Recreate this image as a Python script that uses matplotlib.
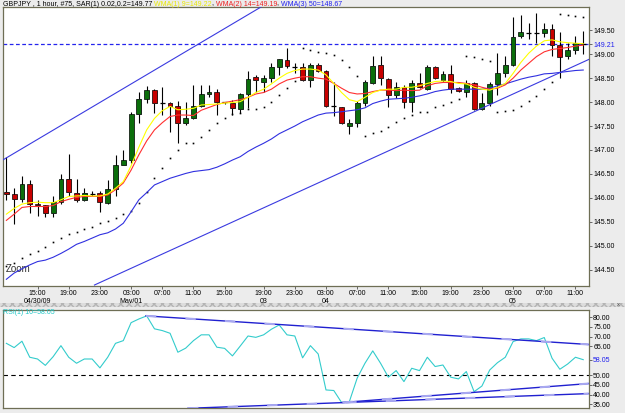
import numpy as np
import matplotlib
matplotlib.use("Agg")
import matplotlib.pyplot as plt
from matplotlib.patches import Rectangle

plt.rcParams['font.family'] = ['Liberation Sans', 'DejaVu Sans']

# hourly GBPJPY bars
opens = [146.13, 146.08, 145.97, 146.29, 145.87, 145.85, 145.68, 145.92, 146.40, 146.11,
         145.96, 146.09, 146.10, 145.90, 146.18, 146.69, 146.79, 147.75, 148.07, 148.25,
         147.98, 147.99, 147.92, 147.56, 147.66, 147.91, 148.16, 148.21, 148.00, 147.99,
         147.86, 148.16, 148.53, 148.41, 148.50, 148.74, 148.88, 148.74, 148.74, 148.46,
         148.78, 148.65, 147.91, 147.89, 147.51, 147.56, 147.99, 148.39, 148.78, 148.48,
         148.14, 148.31, 148.01, 148.39, 148.27, 148.74, 148.46, 148.59, 148.29, 148.22,
         148.39, 147.85, 147.98, 148.38, 148.60, 148.78, 149.38, 149.45, 149.45, 149.45,
         149.52, 149.19, 148.96, 149.09, 149.21]
highs = [146.86, 146.21, 146.46, 146.37, 145.96, 145.85, 146.03, 146.49, 146.91, 146.39,
         146.21, 146.15, 146.15, 146.37, 146.90, 147.01, 147.80, 148.22, 148.34, 148.27,
         148.32, 148.01, 148.03, 148.01, 148.36, 148.36, 148.36, 148.27, 148.01, 148.05,
         148.18, 148.66, 148.57, 148.57, 148.82, 148.91, 149.12, 148.82, 148.81, 148.82,
         148.82, 148.67, 148.41, 147.89, 147.64, 148.03, 148.46, 148.96, 148.96, 148.50,
         148.43, 148.36, 148.46, 148.60, 148.78, 148.76, 148.64, 148.78, 148.31, 148.46,
         148.43, 148.18, 148.43, 149.02, 148.97, 149.77, 149.81, 149.66, 149.87, 149.66,
         149.63, 149.46, 149.24, 149.38, 149.49]
lows = [145.96, 145.45, 145.92, 145.68, 145.62, 145.61, 145.60, 145.87, 146.03, 145.91,
        145.93, 146.03, 145.70, 145.87, 146.04, 146.68, 146.72, 147.56, 147.98, 147.77,
        147.73, 147.38, 147.15, 147.52, 147.64, 147.89, 148.10, 147.73, 147.97, 147.73,
        147.77, 147.87, 148.22, 148.22, 148.43, 148.57, 148.71, 148.60, 148.45, 148.31,
        148.62, 147.89, 147.71, 147.54, 147.34, 147.47, 147.91, 148.38, 148.36, 147.89,
        148.08, 147.87, 147.80, 148.29, 148.25, 148.48, 148.41, 148.19, 148.22, 148.10,
        147.84, 147.84, 147.91, 148.15, 148.52, 148.76, 149.33, 149.31, 149.23, 149.35,
        148.96, 148.50, 148.89, 149.00, 149.00]
closes = [146.08, 145.98, 146.28, 145.87, 145.85, 145.68, 145.92, 146.39, 146.12, 145.96,
          146.11, 146.09, 145.92, 146.18, 146.69, 146.79, 147.75, 148.07, 148.25, 147.98,
          147.98, 147.92, 147.56, 147.66, 147.91, 148.16, 148.21, 148.00, 148.00, 147.87,
          148.16, 148.48, 148.46, 148.50, 148.74, 148.89, 148.76, 148.74, 148.46, 148.78,
          148.65, 147.91, 147.91, 147.56, 147.57, 147.99, 148.43, 148.76, 148.50, 148.14,
          148.32, 148.01, 148.39, 148.31, 148.74, 148.50, 148.59, 148.27, 148.24, 148.39,
          147.85, 147.98, 148.38, 148.60, 148.78, 149.37, 149.46, 149.45, 149.45, 149.52,
          149.19, 148.95, 149.09, 149.24, 149.21]

sar = [144.57, 144.65, 144.74, 144.83, 144.90, 144.98, 145.07, 145.16, 145.25, 145.29,
       145.35, 145.40, 145.48, 145.52, 145.59, 145.66, 145.73, 145.90, 146.13, 146.41,
       146.63, 146.84, 147.01, 147.14, 147.14, 147.28, 147.42, 147.56, 147.66, 147.75,
       147.78, 147.86, 147.86, 147.89, 148.01, 148.14, 148.29, 148.45, 149.12, 149.09,
       149.05, 149.03, 148.98, 148.87, 148.74, 148.55, 147.29, 147.35, 147.40, 147.49,
       147.58, 147.66, 147.73, 147.80, 147.80, 147.89, 147.94, 148.01, 148.06, 148.96,
       148.94, 148.89, 148.86, 147.79, 147.82, 147.84, 147.92, 148.03, 148.13, 148.28,
       148.41, 149.84, 149.82, 149.80, 149.77]

wma9 = [145.66, 145.78, 145.87, 145.90, 145.91, 145.90, 145.90, 145.96, 146.03, 146.04,
        146.05, 146.04, 146.04, 146.08, 146.20, 146.34, 146.67, 147.06, 147.42, 147.66,
        147.82, 147.91, 147.84, 147.85, 147.87, 147.94, 147.95, 147.96, 147.98, 147.99,
        148.01, 148.10, 148.20, 148.27, 148.38, 148.50, 148.60, 148.66, 148.69, 148.69,
        148.67, 148.57, 148.39, 148.20, 148.05, 148.01, 148.10, 148.20, 148.25, 148.27,
        148.27, 148.31, 148.31, 148.34, 148.39, 148.43, 148.44, 148.43, 148.39, 148.38,
        148.31, 148.27, 148.25, 148.31, 148.39, 148.60, 148.83, 149.02, 149.17, 149.28,
        149.30, 149.26, 149.24, 149.23, 149.22]
wma14 = [145.53, 145.66, 145.80, 145.82, 145.82, 145.82, 145.84, 145.92, 145.97, 146.01,
         146.03, 146.03, 146.03, 146.06, 146.17, 146.31, 146.58, 146.90, 147.19, 147.42,
         147.57, 147.70, 147.73, 147.73, 147.72, 147.83, 147.89, 147.95, 147.99, 148.02,
         148.05, 148.10, 148.17, 148.20, 148.27, 148.38, 148.46, 148.50, 148.53, 148.53,
         148.50, 148.48, 148.39, 148.29, 148.20, 148.17, 148.18, 148.22, 148.25, 148.25,
         148.24, 148.25, 148.24, 148.25, 148.34, 148.39, 148.41, 148.41, 148.41, 148.39,
         148.36, 148.31, 148.27, 148.29, 148.36, 148.50, 148.67, 148.81, 148.95, 149.05,
         149.10, 149.12, 149.14, 149.17, 149.19]
wma50 = [144.30, 144.43, 144.52, 144.60, 144.67, 144.70, 144.76, 144.84, 144.93, 145.03,
         145.09, 145.16, 145.23, 145.27, 145.35, 145.47, 145.71, 145.96, 146.11, 146.27,
         146.34, 146.41, 146.46, 146.51, 146.55, 146.57, 146.59, 146.64, 146.71, 146.79,
         146.86, 146.97, 147.06, 147.14, 147.23, 147.34, 147.42, 147.50, 147.59, 147.66,
         147.73, 147.77, 147.78, 147.80, 147.82, 147.84, 147.88, 147.97, 148.02, 148.06,
         148.07, 148.08, 148.10, 148.13, 148.17, 148.22, 148.25, 148.27, 148.27, 148.27,
         148.27, 148.27, 148.29, 148.34, 148.38, 148.43, 148.48, 148.52, 148.55, 148.59,
         148.60, 148.62, 148.64, 148.66, 148.67]

rsi = [66.5, 64.3, 67.6, 59.3, 58.4, 55.1, 59.6, 65.3, 59.3, 56.2,
       58.4, 58.4, 53.8, 59.3, 66.5, 67.9, 77.2, 79.1, 80.7, 74.0,
       73.1, 71.7, 61.9, 64.0, 67.9, 70.9, 70.9, 64.5, 63.9, 60.0,
       65.1, 70.3, 69.6, 70.9, 73.8, 76.0, 70.9, 70.3, 59.0, 65.3,
       61.0, 42.4, 42.1, 35.9, 36.4, 48.5, 56.2, 62.6, 56.2, 49.0,
       52.4, 46.7, 53.6, 52.4, 59.3, 54.5, 55.3, 49.0, 48.1, 51.9,
       41.5, 44.4, 52.7, 56.5, 59.3, 67.4, 68.8, 68.8, 67.9, 69.5,
       58.8, 53.1, 55.8, 59.3, 58.05]

# hand drawn trend lines (bar index, value)
chan_up_x, chan_up_y = [-0.47, 32.7], [146.79, 149.99]
chan_lo_x, chan_lo_y = [11.3, 74.7], [144.18, 148.89]
rsi_top_x, rsi_top_y = [17.9, 74.7], [80.7, 65.9]
rsi_lo1_x, rsi_lo1_y = [23.3, 74.7], [32.9, 40.5]
rsi_lo2_x, rsi_lo2_y = [43.1, 74.7], [35.9, 45.7]
last_close = 149.21

tick_bars = [4, 8, 12, 16, 20, 24, 28, 33, 37, 41, 45, 49, 53, 57, 61, 65, 69, 73]
tick_labels = ['15:00\n04/30/09', '19:00', '23:00', '03:00\nMay/01', '07:00', '11:00',
               '15:00', '19:00\n03', '23:00', '03:00\n04', '07:00', '11:00', '15:00',
               '19:00', '23:00', '03:00\n05', '07:00', '11:00']

W, H = 625, 413
def box(x0, y0, x1, y1):
    return [x0 / W, 1 - y1 / H, (x1 - x0) / W, (y1 - y0) / H]

fig = plt.figure(figsize=(6.25, 4.13), dpi=100)
fig.patch.set_facecolor('#ececec')
ax = fig.add_axes(box(2.7, 7.3, 588.7, 285.5))
rax = fig.add_axes(box(2.7, 309.5, 588.7, 408.3))

spine_col = '#6e6e55'
fs = 5
blue_txt = '#2020ee'

bars = np.arange(len(closes))
o, h, l, c = map(np.array, (opens, highs, lows, closes))
body_lo = np.minimum(o, c)
body_h = np.abs(c - o)
doji = body_h < 0.005
cols = np.where(c >= o, '#0b6e0b', '#c80000')
nd = ~doji

# candles
ax.vlines(bars, l, h, color='black', lw=0.8, zorder=2)
ax.bar(bars[nd] + 0.12, body_h[nd], bottom=body_lo[nd] - 0.015, width=0.62,
       color='#9fb0b0', zorder=2.5)
ax.bar(bars[nd], body_h[nd], bottom=body_lo[nd], width=0.62, color=cols[nd],
       edgecolor='black', lw=0.5, zorder=3)
ax.hlines(c[doji], bars[doji] - 0.31, bars[doji] + 0.31, color='black', lw=0.9, zorder=3)

# indicators
ax.plot(bars, sar, ls='none', marker='s', ms=1.2, mew=0, color='black', zorder=4)
ax.plot(bars, wma50, color='#3030e0', lw=0.8, zorder=4)
ax.plot(bars, wma14, color='#ff3030', lw=0.8, zorder=4)
ax.plot(bars, wma9, color='#ffff00', lw=0.8, zorder=4)
ax.plot(chan_up_x, chan_up_y, color='#3a3ae0', lw=0.8, zorder=4)
ax.plot(chan_lo_x, chan_lo_y, color='#3a3ae0', lw=0.8, zorder=4)
ax.axhline(last_close, color='#2424ee', lw=0.9, ls=(0, (3, 2)), zorder=1)

ax.set_xlim(-0.47, 74.7)
ax.set_ylim(144.17, 149.98)
ax.yaxis.tick_right()
yt = [144.5, 145.0, 145.5, 146.0, 146.5, 147.0, 147.5, 148.0, 148.5, 149.0, 149.5, last_close]
ax.set_yticks(yt)
ax.set_yticklabels([f'{v:.2f}' for v in yt])
ax.get_yticklabels()[-1].set_color(blue_txt)
ax.set_xticks(tick_bars)
ax.set_xticklabels(tick_labels, linespacing=1.3)
ax.tick_params(axis='both', labelsize=fs, length=2.2, width=0.6, color='#505050', pad=1)
ax.text(0.006, 0.058, 'Zoom', transform=ax.transAxes, fontsize=7, color='#303030', va='center')

# RSI panel
rax.plot(bars, rsi, color='#33cccc', lw=0.8, zorder=3)
rax.axhline(50, color='black', lw=0.8, ls=(0, (4, 3)), zorder=2)
for xs, ys in [(rsi_top_x, rsi_top_y), (rsi_lo1_x, rsi_lo1_y), (rsi_lo2_x, rsi_lo2_y)]:
    rax.plot(xs, ys, color='#2020d0', lw=1.0, zorder=4)
    rax.plot(xs, ys, color='#a8a8f0', lw=1.5, dashes=(5, 14), zorder=5)
rax.set_xlim(-0.47, 74.7)
rax.set_ylim(32.9, 84.0)
rax.yaxis.tick_right()
rt = [35, 40, 45, 50, 58.05, 65, 70, 75, 80]
rax.set_yticks(rt)
rax.set_yticklabels([f'{v:.2f}' for v in rt])
rax.get_yticklabels()[4].set_color(blue_txt)
rax.set_xticks([])
rax.tick_params(axis='y', labelsize=fs, length=2.2, width=0.6, color='#505050', pad=1)

for a in (ax, rax):
    a.set_facecolor('white')
    for s in a.spines.values():
        s.set_color(spine_col)
        s.set_linewidth(0.9)

fig.text(3 / W, 1 - 313 / H, 'RSI(1) 10=58.05', color='#22c8c8', fontsize=fs, va='center')

# separator between the panes
fig.patches.append(Rectangle((0, 1 - 307 / H), 1, 4.5 / H, transform=fig.transFigure,
                             facecolor='#dcdcdc', edgecolor='#b4b4b4', hatch='xxxx', lw=0))
fig.text(617 / W, 1 - 304.5 / H, 'x', fontsize=4, color='#404040', va='center')

# title, coloured pieces placed one after another
title_parts = [('GBPJPY , 1 hour, #75, SAR(1) 0.02,0.2=149.77 ', 'black'),
               ('WMA(1) 9=149.22', '#e8e800'), (', ', 'black'),
               ('WMA(2) 14=149.19', '#ee2020'), (', ', 'black'),
               ('WMA(3) 50=148.67', '#2020ee')]
renderer = fig.canvas.get_renderer()
x0 = 3
for txt, col in title_parts:
    t = fig.text(x0 / W, 1 - 4 / H, txt, color=col, fontsize=fs, va='center')
    x0 = t.get_window_extent(renderer).x1

fig.savefig('out.png', dpi=100, facecolor=fig.get_facecolor())
